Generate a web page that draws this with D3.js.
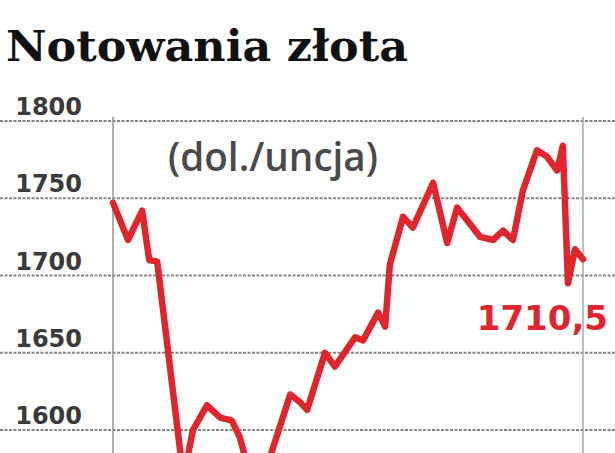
<!DOCTYPE html>
<html><head><meta charset="utf-8">
<script src="https://cdn.jsdelivr.net/npm/d3@7"></script>
<style>html,body{margin:0;padding:0;background:#fff;}svg{display:block;}</style>
</head><body>
<script>
// Data (day index along the period, price in USD/oz)
const days   = [0, 3.2, 6.2, 7.7, 9.4, 14.9, 15.7, 17, 20, 22.8, 25.3, 27, 28.5, 30.9, 34, 37.7, 39.8, 41.3, 45.1, 47.2, 51.5, 53.2, 56.4, 57.9, 58.9, 61.7, 63.8, 68.1, 71.1, 73.2, 78.1, 80.9, 83, 85.1, 87.2, 90.2, 92.3, 94.5, 95.7, 96.8, 98.3, 100];
const prices = [1747, 1723, 1742, 1710, 1709, 1571, 1580, 1600, 1616, 1608, 1606, 1595, 1578, 1560, 1588, 1623, 1618, 1613, 1650, 1641, 1660, 1658, 1676, 1667, 1707, 1738, 1731, 1760, 1721, 1744, 1725, 1723, 1729, 1723, 1755, 1781, 1777, 1768, 1784, 1695, 1717, 1710.5];
const yTicks = [1600, 1650, 1700, 1750, 1800];
const title = "Notowania złota";
const subtitle = "(dol./uncja)";
const lastLabel = "1710,5";

const W = 615, H = 453;
const svg = d3.select("body").append("svg").attr("width", W).attr("height", H);

const x = d3.scaleLinear().domain([0, 100]).range([113, 583]);
const y = d3.scaleLinear().domain([1600, 1800]).range([430, 121]);

// horizontal gridlines + labels
const g = svg.append("g");
g.selectAll("line.h").data(yTicks).join("line").attr("class","h")
  .attr("x1", 0).attr("x2", W)
  .attr("y1", d => y(d)).attr("y2", d => y(d))
  .attr("stroke", "#858585").attr("stroke-width", 1.8)
  .attr("stroke-dasharray", "3,1.5");
g.selectAll("text.t").data(yTicks).join("text").attr("class","t")
  .attr("x", 82).attr("y", d => y(d) - 6)
  .attr("text-anchor", "end")
  .attr("font-family", "DejaVu Sans").attr("font-weight", 700)
  .attr("font-size", 24).attr("fill", "#3a3a3a")
  .text(d => d);

// vertical separators
svg.selectAll("line.v").data([0, 100]).join("line").attr("class","v")
  .attr("x1", d => x(d)).attr("x2", d => x(d))
  .attr("y1", 117).attr("y2", H)
  .attr("stroke", (d,i) => i === 0 ? "#9a9a9a" : "#a9b1bd").attr("stroke-width", 1.6);

// title
svg.append("text").attr("x", 6).attr("y", 61)
  .attr("font-family", "DejaVu Serif").attr("font-weight", 700)
  .attr("font-size", 43).attr("fill", "#111")
  .attr("textLength", 402).attr("lengthAdjust", "spacingAndGlyphs")
  .text(title);

// subtitle
svg.append("text").attr("x", 168).attr("y", 171)
  .attr("font-family", "Open Sans").attr("font-weight", 600).attr("font-size", 39).attr("fill", "#4a4a4a")
  .attr("textLength", 210).attr("lengthAdjust", "spacingAndGlyphs")
  .text(subtitle);

// line
const line = d3.line().x((d,i) => x(days[i])).y(d => y(d)).curve(d3.curveLinear);
svg.append("path").datum(prices)
  .attr("d", line).attr("fill", "none")
  .attr("stroke", "#e2252c").attr("stroke-width", 6.5)
  .attr("stroke-linejoin", "round").attr("stroke-linecap", "round");

// last value label
svg.append("text").attr("x", 608).attr("y", 330).attr("text-anchor", "end")
  .attr("font-family", "DejaVu Sans").attr("font-weight", 700)
  .attr("font-size", 34).attr("fill", "#e2252c")
  .text(lastLabel);
</script>
</body></html>
